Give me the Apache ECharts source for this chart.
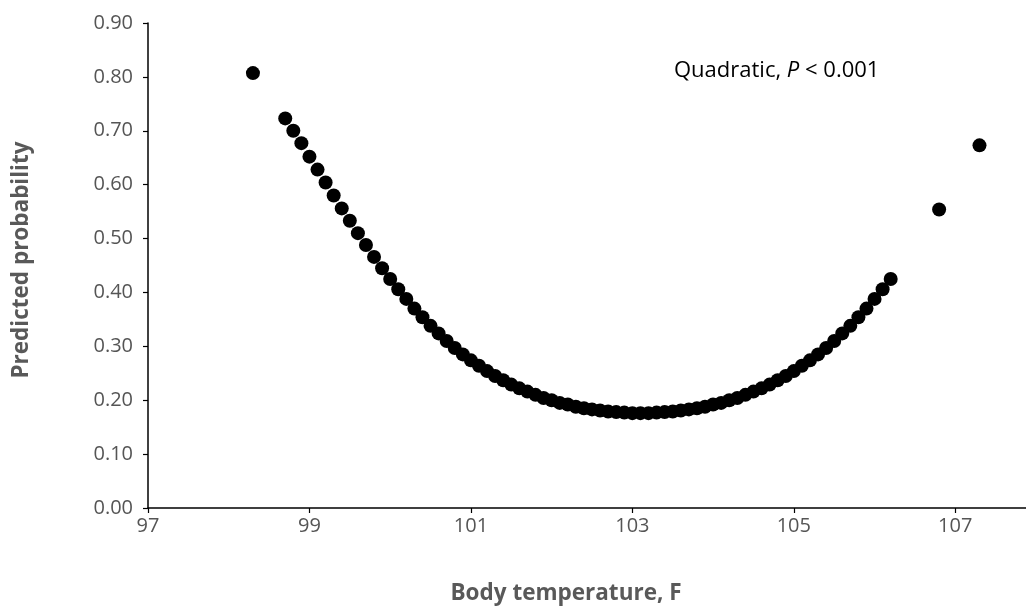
<!DOCTYPE html>
<html>
<head>
<meta charset="utf-8">
<script src="https://cdn.jsdelivr.net/npm/echarts@6/dist/echarts.min.js"></script>
<style>
  html, body { margin: 0; padding: 0; background: #fff; }
  #chart { width: 1026px; height: 608px; }
</style>
</head>
<body>
<div id="chart"></div>
<script>
// Body temperature (F)
const temps = [
  98.3,
  98.7, 98.8, 98.9, 99.0, 99.1, 99.2, 99.3, 99.4, 99.5, 99.6,
  99.7, 99.8, 99.9, 100.0, 100.1, 100.2, 100.3, 100.4, 100.5, 100.6,
  100.7, 100.8, 100.9, 101.0, 101.1, 101.2, 101.3, 101.4, 101.5, 101.6,
  101.7, 101.8, 101.9, 102.0, 102.1, 102.2, 102.3, 102.4, 102.5, 102.6,
  102.7, 102.8, 102.9, 103.0, 103.1, 103.2, 103.3, 103.4, 103.5, 103.6,
  103.7, 103.8, 103.9, 104.0, 104.1, 104.2, 104.3, 104.4, 104.5, 104.6,
  104.7, 104.8, 104.9, 105.0, 105.1, 105.2, 105.3, 105.4, 105.5, 105.6,
  105.7, 105.8, 105.9, 106.0, 106.1, 106.2,
  106.8, 107.3
];
// Predicted probability
const probs = [
  0.807,
  0.723, 0.700, 0.677, 0.652, 0.628, 0.604, 0.580, 0.556, 0.533, 0.510,
  0.488, 0.466, 0.445, 0.425, 0.406, 0.388, 0.370, 0.354, 0.338, 0.324,
  0.310, 0.297, 0.285, 0.274, 0.264, 0.254, 0.245, 0.237, 0.229, 0.222,
  0.216, 0.210, 0.204, 0.200, 0.195, 0.192, 0.188, 0.185, 0.183, 0.181,
  0.179, 0.178, 0.177, 0.176, 0.176, 0.176, 0.177, 0.178, 0.179, 0.181,
  0.183, 0.185, 0.188, 0.192, 0.195, 0.200, 0.204, 0.210, 0.216, 0.222,
  0.229, 0.237, 0.245, 0.254, 0.264, 0.274, 0.285, 0.297, 0.310, 0.324,
  0.338, 0.354, 0.370, 0.388, 0.406, 0.425,
  0.554, 0.673
];
const xTitle = 'Body temperature, F';
const yTitle = 'Predicted probability';
const noteParts = ['Quadratic, ', 'P', ' < 0.001'];

const FONT = '"Open Sans", "Noto Sans", sans-serif';
const chart = echarts.init(document.getElementById('chart'), null, { renderer: 'canvas' });

const points = temps.map((t, i) => [t, probs[i]]);

chart.setOption({
  animation: false,
  backgroundColor: '#ffffff',
  grid: { left: 148, right: -10, top: 23, bottom: 100, outerBoundsMode: 'none', containLabel: false },
  xAxis: {
    type: 'value', min: 97, max: 108, interval: 2,
    splitLine: { show: false },
    axisLine: { show: true, onZero: false, lineStyle: { color: '#000', width: 1.5 } },
    axisTick: { show: true, length: 5, lineStyle: { color: '#000', width: 1.2 } },
    axisLabel: {
      color: '#555', fontFamily: FONT, fontSize: 20, margin: 8,
      showMaxLabel: false,
      formatter: v => (v === 108 ? '' : String(v))
    }
  },
  yAxis: {
    type: 'value', min: 0, max: 0.9, interval: 0.1,
    splitLine: { show: false },
    axisLine: { show: true, lineStyle: { color: '#000', width: 1.5 } },
    axisTick: { show: true, length: 5, lineStyle: { color: '#000', width: 1.2 } },
    axisLabel: {
      color: '#555', fontFamily: FONT, fontSize: 20, margin: 15,
      formatter: v => v.toFixed(2)
    }
  },
  series: [{
    type: 'scatter',
    data: points,
    symbol: 'circle',
    symbolSize: 14,
    itemStyle: { color: '#000', opacity: 1 }
  }],
  graphic: [
    {
      type: 'text', x: 22, y: 260, rotation: Math.PI / 2,
      style: { text: yTitle, fill: '#595959', font: 'bold 22.5px ' + FONT, align: 'center', verticalAlign: 'middle' }
    },
    {
      type: 'text', x: 566, y: 594,
      style: { text: xTitle, fill: '#595959', font: 'bold 22.5px ' + FONT, align: 'center', verticalAlign: 'middle' }
    },
    {
      type: 'text', x: 674, y: 71,
      style: {
        text: '{a|' + noteParts[0] + '}{i|' + noteParts[1] + '}{a|' + noteParts[2] + '}',
        verticalAlign: 'middle', align: 'left',
        rich: {
          a: { fontFamily: FONT, fontSize: 22, fill: '#000' },
          i: { fontFamily: FONT, fontSize: 22, fontStyle: 'italic', fill: '#000' }
        }
      }
    }
  ]
});
</script>
</body>
</html>
